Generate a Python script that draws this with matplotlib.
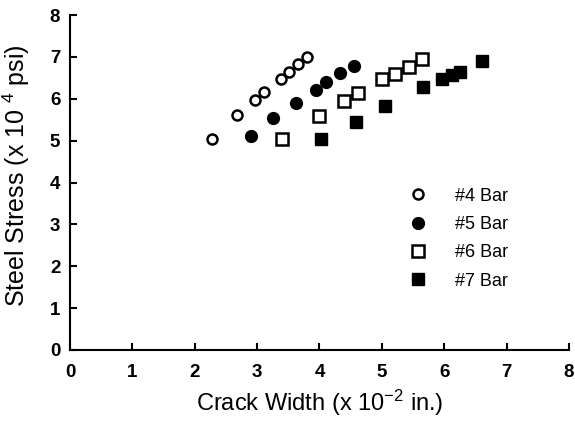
import numpy as np
import matplotlib
matplotlib.use('Agg')
import matplotlib.pyplot as plt

plt.rcParams['font.family'] = ['Liberation Sans', 'DejaVu Sans']
plt.rcParams['mathtext.default'] = 'regular'

# data (crack width x1e-2 in., stress x1e4 psi)
bar4_x = [2.27, 2.67, 2.96, 3.11, 3.38, 3.51, 3.66, 3.80]
bar4_y = [5.04, 5.61, 5.98, 6.17, 6.48, 6.63, 6.82, 7.00]
bar5_x = [2.90, 3.26, 3.63, 3.95, 4.10, 4.33, 4.55]
bar5_y = [5.12, 5.53, 5.91, 6.22, 6.40, 6.62, 6.78]
bar6_x = [3.40, 3.99, 4.40, 4.61, 5.01, 5.21, 5.43, 5.64]
bar6_y = [5.04, 5.58, 5.94, 6.13, 6.48, 6.59, 6.76, 6.95]
bar7_x = [4.03, 4.58, 5.05, 5.66, 5.96, 6.12, 6.25, 6.61]
bar7_y = [5.04, 5.45, 5.82, 6.28, 6.48, 6.58, 6.65, 6.90]
labels = ['#4 Bar', '#5 Bar', '#6 Bar', '#7 Bar']

fig = plt.figure(figsize=(5.75, 4.25), dpi=100)
ax = fig.add_axes([0.1217, 0.1765, 0.8678, 0.788])

ax.plot(bar4_x, bar4_y, 'o', ms=7.2, mfc='white', mec='black', mew=1.8, ls='none', label=labels[0])
ax.plot(bar5_x, bar5_y, 'o', ms=8.5, mfc='black', mec='black', mew=1, ls='none', label=labels[1])
ax.plot(bar6_x, bar6_y, 's', ms=8, mfc='white', mec='black', mew=1.8, ls='none', label=labels[2])
ax.plot(bar7_x, bar7_y, 's', ms=8.8, mfc='black', mec='black', mew=1, ls='none', label=labels[3])

ax.set_xlim(0, 8)
ax.set_ylim(0, 8)
ax.set_xticks(range(9))
ax.set_yticks(range(9))
ax.spines['top'].set_visible(False)
ax.spines['right'].set_visible(False)
for s in ['left', 'bottom']:
    ax.spines[s].set_linewidth(1.5)
ax.tick_params(direction='in', length=5, width=1.5, labelsize=13.5)
ax.tick_params(axis='x', pad=10)
ax.tick_params(axis='y', pad=7)
for t in ax.get_xticklabels() + ax.get_yticklabels():
    t.set_fontweight('bold')

ax.set_xlabel('Crack Width (x 10$^{-2}$ in.)', fontsize=17, labelpad=5)
ax.set_ylabel('Steel Stress (x 10 $^{4}$ psi)', fontsize=18)
ax.yaxis.set_label_coords(-0.077, 0.52)

ax.legend(loc='upper left', bbox_to_anchor=(0.661, 0.485), frameon=False,
          fontsize=13, handlelength=2, handletextpad=1.05, labelspacing=0.63,
          borderaxespad=0, borderpad=0)

fig.savefig('out.png', dpi=100)
